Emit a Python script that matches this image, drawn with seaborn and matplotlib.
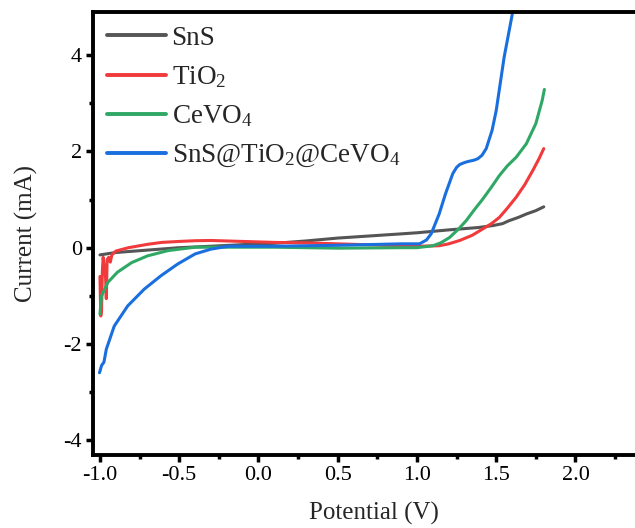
import numpy as np
import pandas as pd
import matplotlib
matplotlib.use("Agg")
import matplotlib.pyplot as plt
import seaborn as sns
from matplotlib.ticker import MultipleLocator

# ---- data ----
sns_x = [-1.0, -0.9, -0.7, -0.5, -0.3, 0.0, 0.1, 0.3, 0.5, 0.89, 1.0, 1.2, 1.39, 1.48, 1.54,
         1.58, 1.64, 1.69, 1.75, 1.8]
sns_y = [-0.15, -0.10, -0.05, 0.0, 0.03, 0.08, 0.09, 0.14, 0.20, 0.285, 0.31, 0.37, 0.42, 0.46, 0.50,
         0.56, 0.63, 0.70, 0.77, 0.85]

tio2_x = [-1.0, -0.995, -0.99, -0.985, -0.98, -0.975, -0.965, -0.96, -0.957, -0.955, -0.945,
          -0.935, -0.925, -0.9, -0.82, -0.7, -0.61, -0.5, -0.4, -0.3, -0.2, 0.0, 0.1, 0.3, 0.5,
          0.8, 1.0, 1.14, 1.2, 1.27, 1.35, 1.415, 1.47, 1.52, 1.57, 1.626, 1.68, 1.73, 1.77, 1.8]
tio2_y = [-0.6, -1.42, -1.3, -0.5, -0.2, -0.35, -0.6, -1.06, -0.6, -0.25, -0.2,
          -0.3, -0.15, -0.07, 0.0, 0.07, 0.11, 0.13, 0.145, 0.15, 0.14, 0.12, 0.11, 0.10, 0.08,
          0.05, 0.03, 0.04, 0.08, 0.15, 0.26, 0.39, 0.50, 0.63, 0.82, 1.05, 1.31, 1.60, 1.85, 2.06]

cevo4_x = [-1.0, -0.99, -0.95, -0.89, -0.8, -0.7, -0.57, -0.4, -0.2, 0.1, 0.5, 0.9, 1.0,
           1.1, 1.15, 1.205, 1.26, 1.31, 1.36, 1.415, 1.47, 1.52, 1.57, 1.626, 1.69, 1.75,
           1.79, 1.804]
cevo4_y = [-1.38, -1.0, -0.72, -0.51, -0.31, -0.17, -0.06, 0.01, 0.01, 0.01, -0.01, 0.0, 0.0,
           0.04, 0.10, 0.21, 0.38, 0.56, 0.78, 1.01, 1.26, 1.50, 1.70, 1.88, 2.16, 2.58,
           3.06, 3.29]

comp_x = [-1.003, -0.99, -0.975, -0.96, -0.91, -0.825, -0.72, -0.614, -0.51, -0.40, -0.30,
          -0.19, 0.1, 0.5, 0.9, 1.016, 1.06, 1.09, 1.14, 1.18, 1.226, 1.25, 1.27, 1.3, 1.32,
          1.36, 1.384, 1.41, 1.437, 1.474, 1.50, 1.55, 1.60, 1.65]
comp_y = [-2.60, -2.45, -2.38, -2.11, -1.63, -1.21, -0.86, -0.58, -0.34, -0.13, -0.03,
          0.03, 0.03, 0.05, 0.08, 0.08, 0.16, 0.29, 0.70, 1.12, 1.54, 1.67, 1.73, 1.77, 1.79,
          1.82, 1.85, 1.92, 2.06, 2.44, 2.85, 3.96, 4.83, 5.8]

labels = ["SnS", r"TiO$_\mathregular{2}$", r"CeVO$_\mathregular{4}$",
          r"SnS@TiO$_\mathregular{2}$@CeVO$_\mathregular{4}$"]
colors = ["#555555", "#f03a3c", "#2fa865", "#1a6fdf"]

xticks = [-1.0, -0.5, 0.0, 0.5, 1.0, 1.5, 2.0]
yticks = [-4, -2, 0, 2, 4]

frames = []
for lab, xs, ys in zip(labels, [sns_x, tio2_x, cevo4_x, comp_x], [sns_y, tio2_y, cevo4_y, comp_y]):
    frames.append(pd.DataFrame({"Potential": xs, "Current": ys, "Sample": lab}))
df = pd.concat(frames, ignore_index=True)

# ---- style ----
sns.set_style("ticks")
plt.rcParams["font.family"] = ["Liberation Serif", "DejaVu Serif"]
plt.rcParams["mathtext.fontset"] = "custom"
plt.rcParams["mathtext.rm"] = "Liberation Serif"
plt.rcParams["mathtext.it"] = "Liberation Serif:italic"

fig = plt.figure(figsize=(6.35, 5.28), dpi=100)
ax = fig.add_axes([93 / 635, 1 - 455 / 528, 561.7 / 635, 443 / 528])

sns.lineplot(data=df, x="Potential", y="Current", hue="Sample", hue_order=labels,
             palette=colors, sort=False, estimator=None, linewidth=2.2, ax=ax)
for ln in ax.get_lines():
    ln.set_solid_joinstyle("round")
    ln.set_solid_capstyle("round")

ax.set_xlim(-1.044, 2.5)
ax.set_ylim(-4.31, 4.9)
ax.set_xticks(xticks)
ax.set_xticklabels([f"{v:.1f}" for v in xticks])
ax.set_yticks(yticks)
ax.set_yticklabels([str(v) for v in yticks])
ax.xaxis.set_minor_locator(MultipleLocator(0.25))
ax.yaxis.set_minor_locator(MultipleLocator(1))

for s in ax.spines.values():
    s.set_linewidth(2.8)
    s.set_color("black")
ax.tick_params(which="major", direction="out", length=5, width=2.5, labelsize=16, colors="black",
               pad=3)
ax.tick_params(which="minor", direction="out", length=3, width=2.5, colors="black")
ax.tick_params(top=False, right=False, which="both")

ax.set_xlabel("Potential (V)", fontsize=18, labelpad=12)
ax.set_ylabel("Current (mA)", fontsize=18, labelpad=18)

leg = ax.legend(loc="upper left", frameon=False, fontsize=19.5, handlelength=2.2,
                handletextpad=0.2, labelspacing=0.5, borderaxespad=0.1, borderpad=0.4)
for line in leg.get_lines():
    line.set_linewidth(2.8)

fig.savefig("out.png", dpi=100)
